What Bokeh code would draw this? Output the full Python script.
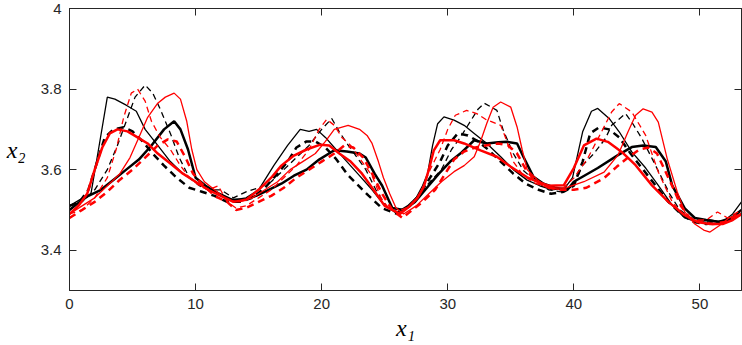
from bokeh.plotting import figure
from bokeh.models import Range1d, FixedTicker, LinearAxis
from bokeh.embed import file_html
from bokeh.resources import INLINE

# ---- tick values / labels ----
x_ticks = [0, 10, 20, 30, 40, 50]
x_tick_labels = ["0", "10", "20", "30", "40", "50"]
y_ticks = [3.4, 3.6, 3.8, 4]
y_tick_labels = ["3.4", "3.6", "3.8", "4"]
x_axis_label = "x\u2081"
y_axis_label = "x\u2082"

# ---- series (x1, x2) ----
# black thin solid
bts = [(0,3.51),(0.8,3.525),(1.7,3.54),(2.3,3.65),(3.0,3.78),(3.6,3.775),(4.5,3.76),(5.3,3.745),(6.0,3.70),(7.0,3.66),(8.0,3.62),(9.0,3.59),(10.0,3.57),(11.0,3.555),(12.0,3.54),(13.0,3.525),(14.0,3.53),(15.0,3.55),(16.2,3.61),(17.3,3.66),(18.3,3.70),(19.0,3.695),(19.6,3.70),(20.3,3.68),(21.0,3.655),(22.0,3.62),(23.0,3.585),(24.0,3.55),(25.0,3.51),(26.0,3.495),(26.8,3.51),(27.5,3.53),(28.0,3.56),(28.4,3.59),(28.8,3.66),(29.2,3.714),(29.7,3.731),(30.5,3.723),(31.3,3.71),(32.1,3.69),(33.1,3.665),(34.2,3.632),(35.2,3.60),(36.3,3.574),(37.3,3.56),(38.3,3.55),(39.3,3.555),(39.9,3.58),(40.7,3.694),(41.4,3.745),(41.9,3.752),(42.8,3.727),(43.6,3.694),(44.6,3.644),(45.7,3.604),(46.7,3.561),(47.8,3.512),(48.8,3.48),(49.8,3.47),(50.8,3.475),(51.8,3.47),(52.6,3.49),(53.3,3.52)]
# black thin dashed
btd = [(0,3.51),(1.0,3.52),(2.0,3.55),(3.0,3.60),(3.8,3.66),(4.5,3.72),(5.2,3.78),(6.0,3.81),(6.6,3.79),(7.2,3.75),(8.0,3.69),(8.7,3.63),(9.5,3.58),(10.3,3.56),(11.0,3.55),(12.0,3.55),(13.0,3.53),(14.0,3.545),(15.0,3.555),(16.0,3.57),(17.0,3.60),(18.0,3.63),(19.0,3.66),(20.0,3.70),(20.8,3.727),(21.4,3.694),(22.1,3.661),(23.5,3.60),(24.3,3.55),(25.1,3.51),(26.0,3.49),(27.0,3.51),(27.8,3.54),(28.6,3.57),(29.5,3.60),(30.3,3.65),(31.0,3.68),(31.8,3.72),(32.4,3.75),(32.9,3.765),(33.9,3.747),(34.4,3.698),(35.2,3.64),(36.0,3.598),(37.0,3.57),(38.0,3.55),(39.0,3.545),(40.0,3.56),(40.7,3.611),(41.6,3.64),(42.5,3.677),(43.0,3.71),(44.1,3.739),(44.6,3.718),(45.4,3.677),(46.2,3.628),(47.0,3.578),(47.6,3.54),(48.4,3.50),(49.3,3.48),(50.3,3.47),(51.3,3.47),(52.3,3.475),(53.3,3.50)]
# red thin dashed
rtd = [(0,3.49),(1.0,3.50),(2.0,3.53),(3.0,3.58),(3.7,3.65),(4.3,3.73),(4.9,3.79),(5.4,3.80),(6.0,3.77),(6.5,3.72),(7.2,3.68),(8.0,3.65),(8.8,3.61),(9.5,3.58),(10.3,3.56),(11.0,3.55),(11.8,3.56),(12.5,3.52),(13.2,3.505),(14.0,3.51),(15.0,3.53),(16.0,3.55),(17.0,3.58),(18.0,3.61),(19.0,3.65),(19.8,3.70),(20.4,3.725),(21.0,3.71),(21.6,3.68),(22.3,3.66),(23.2,3.62),(24.0,3.585),(24.7,3.53),(25.3,3.505),(26.0,3.495),(27.0,3.51),(27.8,3.54),(28.6,3.60),(29.4,3.65),(30.0,3.70),(30.6,3.735),(31.5,3.747),(32.3,3.739),(33.0,3.725),(34.2,3.71),(34.7,3.67),(35.2,3.62),(36.0,3.585),(37.0,3.565),(38.0,3.555),(39.0,3.55),(40.0,3.579),(41.1,3.628),(42.2,3.694),(43.0,3.743),(43.6,3.764),(44.6,3.743),(45.7,3.685),(46.7,3.594),(47.8,3.52),(48.6,3.49),(49.5,3.475),(50.5,3.475),(51.4,3.495),(52.2,3.48),(53.3,3.50)]
# red thin solid
rts = [(0,3.49),(1.0,3.51),(2.0,3.53),(3.0,3.56),(4.0,3.59),(4.8,3.63),(5.5,3.68),(6.2,3.73),(7.0,3.765),(7.6,3.78),(8.3,3.79),(8.8,3.775),(9.3,3.72),(9.7,3.65),(10.1,3.60),(10.7,3.57),(11.5,3.55),(12.5,3.525),(13.5,3.52),(14.5,3.53),(15.5,3.55),(16.5,3.57),(17.5,3.60),(18.5,3.62),(19.5,3.64),(20.3,3.67),(21.0,3.70),(22.1,3.71),(23.0,3.70),(23.6,3.685),(24.0,3.665),(24.5,3.62),(24.9,3.58),(25.4,3.54),(25.9,3.505),(26.5,3.49),(27.5,3.51),(28.5,3.54),(29.5,3.57),(30.5,3.595),(31.3,3.61),(32.1,3.632),(32.6,3.67),(33.1,3.715),(33.6,3.755),(34.2,3.768),(35.0,3.755),(35.5,3.706),(35.9,3.65),(36.3,3.60),(37.1,3.575),(38.0,3.555),(39.3,3.554),(40.8,3.57),(42.4,3.594),(43.5,3.636),(44.3,3.694),(44.9,3.735),(45.5,3.751),(46.2,3.743),(46.7,3.718),(47.4,3.628),(48.2,3.545),(48.8,3.495),(49.6,3.465),(50.3,3.45),(50.8,3.445),(51.5,3.46),(52.3,3.48),(53.3,3.49)]
# black thick solid
bks = [(0,3.50),(0.8,3.52),(1.5,3.535),(2.5,3.55),(3.5,3.575),(4.5,3.60),(5.5,3.625),(6.5,3.66),(7.5,3.70),(8.3,3.72),(8.8,3.70),(9.4,3.65),(10.0,3.58),(10.8,3.56),(11.8,3.54),(12.8,3.525),(13.8,3.525),(14.8,3.535),(15.8,3.55),(16.8,3.565),(17.8,3.585),(18.8,3.60),(19.8,3.625),(21.0,3.648),(22.0,3.645),(23.0,3.64),(23.5,3.63),(24.2,3.59),(24.8,3.56),(25.6,3.505),(26.5,3.50),(27.4,3.52),(28.4,3.557),(29.3,3.59),(30.2,3.62),(31.0,3.64),(32.1,3.673),(33.1,3.665),(34.0,3.668),(34.7,3.669),(35.5,3.665),(36.0,3.632),(36.8,3.582),(37.6,3.565),(38.5,3.555),(39.5,3.55),(40.0,3.57),(41.9,3.604),(43.5,3.636),(44.6,3.656),(45.5,3.66),(46.5,3.656),(47.3,3.62),(47.8,3.561),(48.8,3.504),(49.6,3.48),(50.5,3.475),(51.5,3.47),(52.5,3.48),(53.3,3.50)]
# black thick dashed
bkd = [(0,3.51),(0.8,3.52),(1.5,3.55),(2.2,3.62),(2.8,3.68),(3.5,3.70),(4.3,3.705),(5.0,3.695),(5.8,3.67),(6.6,3.64),(7.5,3.61),(8.5,3.58),(9.5,3.555),(10.5,3.545),(11.5,3.535),(12.5,3.52),(13.5,3.52),(14.5,3.53),(15.5,3.555),(16.5,3.59),(17.3,3.62),(18.0,3.655),(18.8,3.67),(19.5,3.67),(20.3,3.655),(21.1,3.628),(22.1,3.586),(23.7,3.536),(24.8,3.504),(26.0,3.49),(27.0,3.51),(27.8,3.54),(28.6,3.58),(29.4,3.62),(30.0,3.66),(30.8,3.69),(31.6,3.685),(32.4,3.67),(33.2,3.65),(34.2,3.62),(35.2,3.59),(36.2,3.565),(37.2,3.55),(38.2,3.54),(39.2,3.545),(40.0,3.56),(40.7,3.62),(41.3,3.69),(42.0,3.705),(42.8,3.70),(43.6,3.68),(44.5,3.64),(45.5,3.60),(46.5,3.56),(47.5,3.52),(48.5,3.49),(49.5,3.47),(50.5,3.465),(51.5,3.47),(52.5,3.475),(53.3,3.49)]
# red thick solid
rks = [(0,3.49),(0.7,3.51),(1.4,3.54),(2.0,3.60),(2.6,3.655),(3.2,3.69),(3.8,3.70),(4.6,3.695),(5.4,3.68),(6.2,3.665),(7.0,3.64),(8.0,3.615),(9.0,3.59),(10.0,3.57),(11.0,3.55),(12.0,3.535),(13.0,3.52),(14.0,3.525),(15.0,3.55),(16.0,3.58),(16.8,3.61),(17.8,3.635),(18.8,3.65),(19.9,3.662),(20.6,3.66),(21.4,3.64),(22.3,3.62),(23.2,3.59),(24.0,3.555),(25.0,3.51),(26.2,3.49),(27.0,3.51),(27.6,3.53),(28.1,3.557),(28.5,3.60),(28.9,3.648),(29.4,3.673),(30.5,3.673),(31.3,3.665),(32.6,3.648),(33.9,3.632),(35.0,3.607),(36.3,3.581),(37.1,3.57),(38.0,3.56),(39.2,3.561),(40.0,3.604),(40.8,3.66),(41.8,3.677),(42.7,3.669),(43.8,3.644),(44.9,3.611),(46.2,3.561),(47.5,3.52),(48.8,3.487),(49.8,3.47),(50.8,3.465),(51.8,3.465),(52.6,3.475),(53.3,3.49)]
# red thick dashed
rkd = [(0,3.48),(1.0,3.50),(2.0,3.52),(3.0,3.545),(4.0,3.575),(5.0,3.60),(6.0,3.63),(7.0,3.66),(7.8,3.675),(8.5,3.67),(9.2,3.63),(9.8,3.59),(10.5,3.565),(11.5,3.535),(12.5,3.52),(13.2,3.50),(14.0,3.505),(15.0,3.52),(16.0,3.535),(17.0,3.555),(18.0,3.58),(19.0,3.60),(20.0,3.62),(21.0,3.64),(21.8,3.66),(22.5,3.655),(23.3,3.63),(24.0,3.59),(24.8,3.54),(25.6,3.50),(26.4,3.48),(27.2,3.50),(28.0,3.52),(29.0,3.55),(29.8,3.59),(30.5,3.625),(31.3,3.645),(32.2,3.655),(33.0,3.66),(34.0,3.665),(34.8,3.66),(35.5,3.64),(36.2,3.60),(37.0,3.57),(38.0,3.555),(39.0,3.55),(40.0,3.55),(41.0,3.555),(42.4,3.579),(43.4,3.607),(44.3,3.63),(45.2,3.65),(45.9,3.655),(46.6,3.64),(47.2,3.60),(47.8,3.56),(48.5,3.51),(49.2,3.48),(50.0,3.47),(51.0,3.465),(52.0,3.47),(53.3,3.495)]

AXIS_COLOR = "#262626"
TICK_FONT = "Liberation Sans"
SERIF = "Liberation Serif"

p = figure(width=742, height=345,
           x_range=Range1d(0, 53.3), y_range=Range1d(3.3, 4.0),
           output_backend="svg", toolbar_location=None,
           min_border_left=69, min_border_right=1,
           min_border_top=8, min_border_bottom=55)
p.grid.visible = False
p.outline_line_color = AXIS_COLOR
p.outline_line_width = 1
p.background_fill_color = "white"
p.border_fill_color = "white"

def style_axis(ax, ticks, labels, show_labels=True):
    ax.ticker = FixedTicker(ticks=ticks)
    ax.major_tick_in = 7
    ax.major_tick_out = 0
    ax.minor_tick_line_color = None
    ax.axis_line_color = AXIS_COLOR
    ax.major_tick_line_color = AXIS_COLOR
    if show_labels:
        ax.major_label_overrides = {t: l for t, l in zip(ticks, labels)}
        ax.major_label_text_font = TICK_FONT
        ax.major_label_text_font_size = "15px"
        ax.major_label_text_color = AXIS_COLOR
        ax.major_label_standoff = 8
    else:
        ax.major_label_overrides = {t: "" for t in ticks}
        ax.major_label_text_font_size = "1px"
        ax.major_label_standoff = 0

xa = p.xaxis[0]
ya = p.yaxis[0]
style_axis(xa, x_ticks, x_tick_labels)
style_axis(ya, y_ticks, y_tick_labels)

xa.axis_label = x_axis_label
xa.axis_label_text_font = SERIF
xa.axis_label_text_font_style = "italic"
xa.axis_label_text_font_size = "24px"
xa.axis_label_text_color = "black"
xa.axis_label_standoff = 3

ya.axis_label = y_axis_label
ya.axis_label_orientation = "horizontal"
ya.axis_label_text_font = SERIF
ya.axis_label_text_font_style = "italic"
ya.axis_label_text_font_size = "24px"
ya.axis_label_text_color = "black"
ya.axis_label_standoff = 12

top_ax = LinearAxis()
style_axis(top_ax, x_ticks, x_tick_labels, show_labels=False)
p.add_layout(top_ax, "above")
right_ax = LinearAxis()
style_axis(right_ax, y_ticks, y_tick_labels, show_labels=False)
p.add_layout(right_ax, "right")

def draw(series, color, width, dash):
    xs = [a for a, b in series]
    ys = [b for a, b in series]
    p.line(xs, ys, line_color=color, line_width=width, line_dash=dash)

THIN, THICK = 1.3, 2.5
draw(bks, "black", THICK, "solid")
draw(bkd, "black", THICK, "7 5")
draw(bts, "black", THIN, "solid")
draw(btd, "black", THIN, "6 4")
draw(rkd, "red", THICK, "7 5")
draw(rks, "red", THICK, "solid")
draw(rtd, "red", THIN, "6 4")
draw(rts, "red", THIN, "solid")

open("out.html", "w").write(file_html(p, INLINE))
